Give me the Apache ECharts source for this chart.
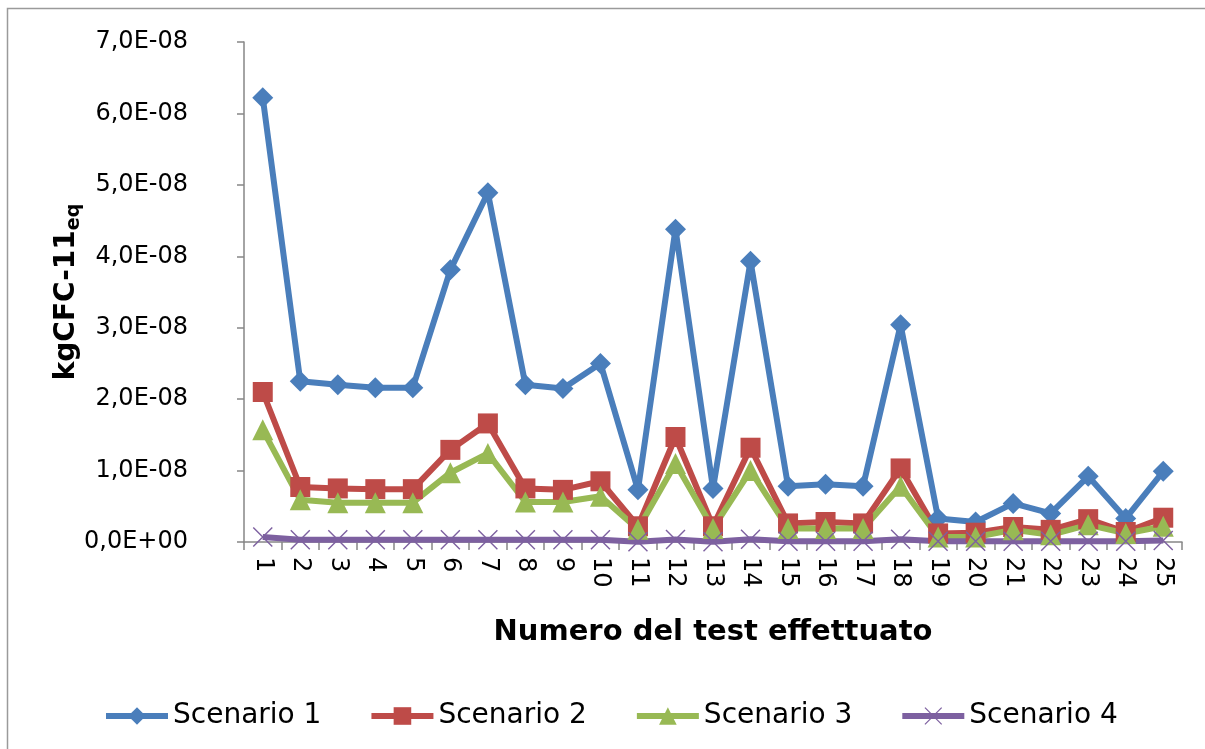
<!DOCTYPE html>
<html>
<head>
<meta charset="utf-8">
<script src="https://cdn.jsdelivr.net/npm/echarts@6/dist/echarts.min.js"></script>
<style>
  html, body { margin: 0; padding: 0; background: #fff; }
  #chart { width: 1205px; height: 749px; }
</style>
</head>
<body>
<div id="chart"></div>
<script>
const tests = ['1','2','3','4','5','6','7','8','9','10','11','12','13','14','15','16','17','18','19','20','21','22','23','24','25'];

const scenario1 = [6.22e-8, 2.25e-8, 2.20e-8, 2.16e-8, 2.16e-8, 3.81e-8, 4.89e-8, 2.20e-8, 2.15e-8, 2.50e-8,
  0.73e-8, 4.38e-8, 0.75e-8, 3.93e-8, 0.78e-8, 0.81e-8, 0.78e-8, 3.04e-8, 0.33e-8, 0.28e-8,
  0.54e-8, 0.40e-8, 0.92e-8, 0.33e-8, 0.99e-8];
const scenario2 = [2.10e-8, 0.77e-8, 0.75e-8, 0.74e-8, 0.74e-8, 1.29e-8, 1.66e-8, 0.75e-8, 0.73e-8, 0.85e-8,
  0.22e-8, 1.47e-8, 0.22e-8, 1.32e-8, 0.26e-8, 0.28e-8, 0.26e-8, 1.03e-8, 0.12e-8, 0.13e-8,
  0.21e-8, 0.17e-8, 0.32e-8, 0.14e-8, 0.34e-8];
const scenario3 = [1.57e-8, 0.59e-8, 0.55e-8, 0.55e-8, 0.55e-8, 0.97e-8, 1.24e-8, 0.56e-8, 0.56e-8, 0.64e-8,
  0.18e-8, 1.10e-8, 0.19e-8, 1.00e-8, 0.19e-8, 0.19e-8, 0.19e-8, 0.78e-8, 0.07e-8, 0.07e-8,
  0.17e-8, 0.10e-8, 0.24e-8, 0.12e-8, 0.22e-8];
const scenario4 = [0.07e-8, 0.03e-8, 0.03e-8, 0.03e-8, 0.03e-8, 0.03e-8, 0.03e-8, 0.03e-8, 0.03e-8, 0.03e-8,
  0.005e-8, 0.035e-8, 0.005e-8, 0.04e-8, 0.01e-8, 0.01e-8, 0.01e-8, 0.04e-8, 0.01e-8, 0.01e-8,
  0.01e-8, 0.01e-8, 0.01e-8, 0.01e-8, 0.02e-8];

const font = 'DejaVu Sans, Verdana, sans-serif';
const crossPath = 'path://M0,1 L1,0 L20,19 L19,20 Z M19,0 L20,1 L1,20 L0,19 Z';

function sciLabel(v) {
  if (Math.abs(v) < 1e-20) return '0,0E+00';
  return (v / 1e-8).toFixed(1).replace('.', ',') + 'E-08';
}

function lineSeries(name, data, color, symbol, size) {
  return {
    name: name,
    type: 'line',
    data: data,
    symbol: symbol,
    symbolSize: size,
    showAllSymbol: true,
    lineStyle: { color: color, width: 6 },
    itemStyle: { color: color },
    emphasis: { disabled: true },
    animation: false
  };
}

const chart = echarts.init(document.getElementById('chart'));
chart.setOption({
  backgroundColor: '#fff',
  animation: false,
  textStyle: { fontFamily: font },
  graphic: [{
    type: 'rect',
    shape: { x: 7.5, y: 8.5, width: 1300, height: 900 },
    style: { fill: 'none', stroke: '#9a9a9a', lineWidth: 1.5 },
    silent: true
  }],
  grid: { left: 244, top: 42, right: 23, bottom: 207 },
  legend: {
    top: 697,
    left: 98,
    itemWidth: 62,
    itemHeight: 22,
    itemGap: 47,
    lineStyle: { width: 6 },
    textStyle: { fontSize: 28, color: '#000', fontFamily: font },
    data: ['Scenario 1', 'Scenario 2', 'Scenario 3', 'Scenario 4']
  },
  xAxis: {
    type: 'category',
    data: tests,
    boundaryGap: true,
    name: 'Numero del test effettuato',
    nameLocation: 'middle',
    nameGap: 76,
    nameTextStyle: { fontSize: 29, fontWeight: 'bold', color: '#000', fontFamily: font },
    axisLine: { lineStyle: { color: '#868686', width: 1.5 } },
    axisTick: { show: true, length: 8, lineStyle: { color: '#868686', width: 1.5 } },
    axisLabel: { rotate: -90, fontSize: 24, color: '#000', margin: 15, interval: 0, fontFamily: font }
  },
  yAxis: {
    type: 'value',
    min: 0,
    max: 7e-8,
    interval: 1e-8,
    name: '{m|kgCFC-11}{s|eq}',
    nameLocation: 'middle',
    nameGap: 160,
    nameMoveOverlap: false,
    nameTextStyle: {
      rich: {
        m: { fontSize: 28, fontWeight: 'bold', color: '#000', fontFamily: font, lineHeight: 34 },
        s: { fontSize: 19, fontWeight: 'bold', color: '#000', fontFamily: font, lineHeight: 20, verticalAlign: 'bottom' }
      }
    },
    splitLine: { show: false },
    axisLine: { show: true, lineStyle: { color: '#868686', width: 1.5 } },
    axisTick: { show: true, length: 7, lineStyle: { color: '#868686', width: 1.5 } },
    axisLabel: { fontSize: 24, color: '#000', margin: 56, formatter: sciLabel, fontFamily: font }
  },
  series: [
    lineSeries('Scenario 1', scenario1, '#4A7EBB', 'diamond', 21),
    lineSeries('Scenario 2', scenario2, '#BE4B48', 'rect', 20),
    lineSeries('Scenario 3', scenario3, '#98B954', 'triangle', 21),
    lineSeries('Scenario 4', scenario4, '#7D60A0', crossPath, 20)
  ]
});
</script>
</body>
</html>
